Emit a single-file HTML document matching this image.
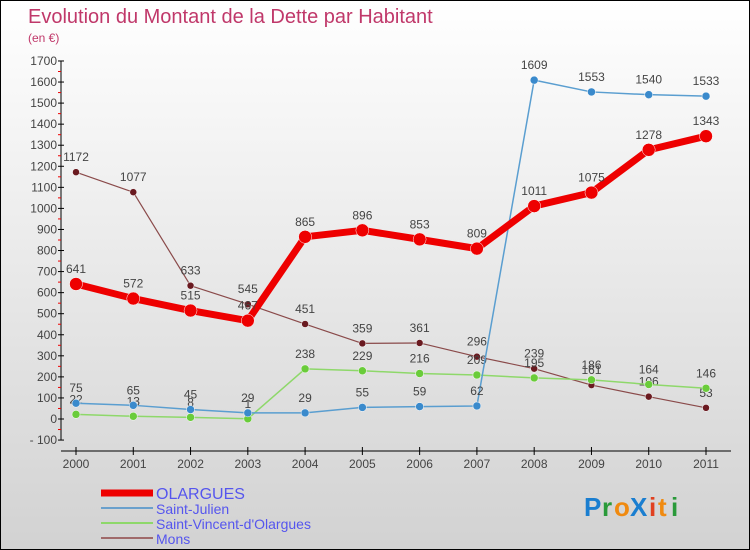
<!DOCTYPE html>
<html><head><meta charset="utf-8"><style>
body{margin:0}
#wrap{position:relative;width:748px;height:548px;border:1px solid #000;background:linear-gradient(#ffffff,#d2d2d2);font-family:"Liberation Sans",sans-serif;overflow:hidden}
svg{position:absolute;left:0;top:0}
</style></head><body>
<div id="wrap">
<svg id="chart" width="750" height="550">
<text x="27" y="22" font-size="20" fill="#c0386a">Evolution du Montant de la Dette par Habitant</text>
<text x="27" y="41" font-size="12" fill="#c0386a">(en €)</text>
<g id="axes"></g><g id="series"></g><g id="legend"></g>
<g font-size="26" font-weight="bold">
<text x="583" y="515" fill="#1a7ed0">P</text><text x="601" y="515" fill="#2a9a3a">r</text><text x="613" y="515" fill="#f08a10">o</text><text x="629" y="515" fill="#1a7ed0">X</text><text x="648" y="515" fill="#e04020">i</text><text x="657" y="515" fill="#f08a10">t</text><text x="670" y="515" fill="#2a9a3a">i</text>
</g>
</svg>
</div>
<script>
const years=[2000,2001,2002,2003,2004,2005,2006,2007,2008,2009,2010,2011];
const olargues=[641,572,515,467,865,896,853,809,1011,1075,1278,1343];
const saintJulien=[75,65,45,29,29,55,59,62,1609,1553,1540,1533];
const saintVincent=[22,13,8,1,238,229,216,209,195,186,164,146];
const mons=[1172,1077,633,545,451,359,361,296,239,161,106,53];
const yTicks=[-100,0,100,200,300,400,500,600,700,800,900,1000,1100,1200,1300,1400,1500,1600,1700];
const NS="http://www.w3.org/2000/svg";
function X(i){return 75+i*(630/(years.length-1));}
function Y(v){return 418-v*0.2106;}
function mk(t,a,p){const e=document.createElementNS(NS,t);for(const k in a)e.setAttribute(k,a[k]);p.appendChild(e);return e;}
const axes=document.getElementById('axes');
const yax=mk('line',{x1:60,y1:Y(1700),x2:60,y2:Y(-100),stroke:'#000'},axes);


yTicks.forEach(v=>{
 mk('line',{x1:57,y1:Y(v),x2:63,y2:Y(v),stroke:'#000'},axes);
 if(v<1700) mk('line',{x1:57,y1:Y(v+50),x2:60,y2:Y(v+50),stroke:'#e00'},axes);
 const t=mk('text',{x:56,y:Y(v)+4,'font-size':12,fill:'#444','text-anchor':'end'},axes);
 t.textContent=v<0?'- '+(-v):v;
 
 
});
const xax=mk('line',{x1:60,y1:450,x2:730,y2:450,stroke:'#000'},axes);


years.forEach((y,i)=>{
 mk('line',{x1:X(i),y1:446,x2:X(i),y2:454,stroke:'#000'},axes);
 const t=mk('text',{x:X(i),y:467,'font-size':12,fill:'#444','text-anchor':'middle'},axes);
 t.textContent=y;
 
 
});
const ser=document.getElementById('series');
function draw(vals,color,width,r,name,dot){
 const g=mk('g',{},ser);
 
 
 mk('polyline',{points:vals.map((v,i)=>X(i)+','+Y(v)).join(' '),fill:'none',stroke:color,'stroke-width':width,'stroke-linejoin':'round'},g);
 vals.forEach((v,i)=>{
  const c=mk('circle',{cx:X(i),cy:Y(v),r:r,fill:dot,stroke:'#fff','stroke-width':0.5},g);
  
  
  const t=mk('text',{x:X(i),y:Y(v)-11,'font-size':12,fill:'#444','text-anchor':'middle'},g);
  t.textContent=v;
 });
}
draw(mons,'#8a4a4a',1.2,3.5,'mons','#6a1a20');
draw(saintVincent,'#8ed86a',1.5,4,'saint-vincent','#6acc3a');
draw(saintJulien,'#5a9ed0',1.5,4,'saint-julien','#3a8acc');
draw(olargues,'#ee0000',7,6.5,'olargues','#ee0000');
const lg=document.getElementById('legend');
[['OLARGUES','#ee0000',7],['Saint-Julien','#6aa0cc',2],["Saint-Vincent-d'Olargues",'#8ed86a',2],['Mons','#a06a6a',2]].forEach((e,i)=>{
 const y=492+i*15;
 const l=mk('line',{x1:100,y1:y,x2:152,y2:y,stroke:e[1],'stroke-width':e[2]},lg);
 
 
 const t=mk('text',{x:155,y:y+6,'font-size':i==0?16:14,fill:'#5555ee'},lg);
 t.textContent=e[0];
 
 
});
</script>
</body></html>
